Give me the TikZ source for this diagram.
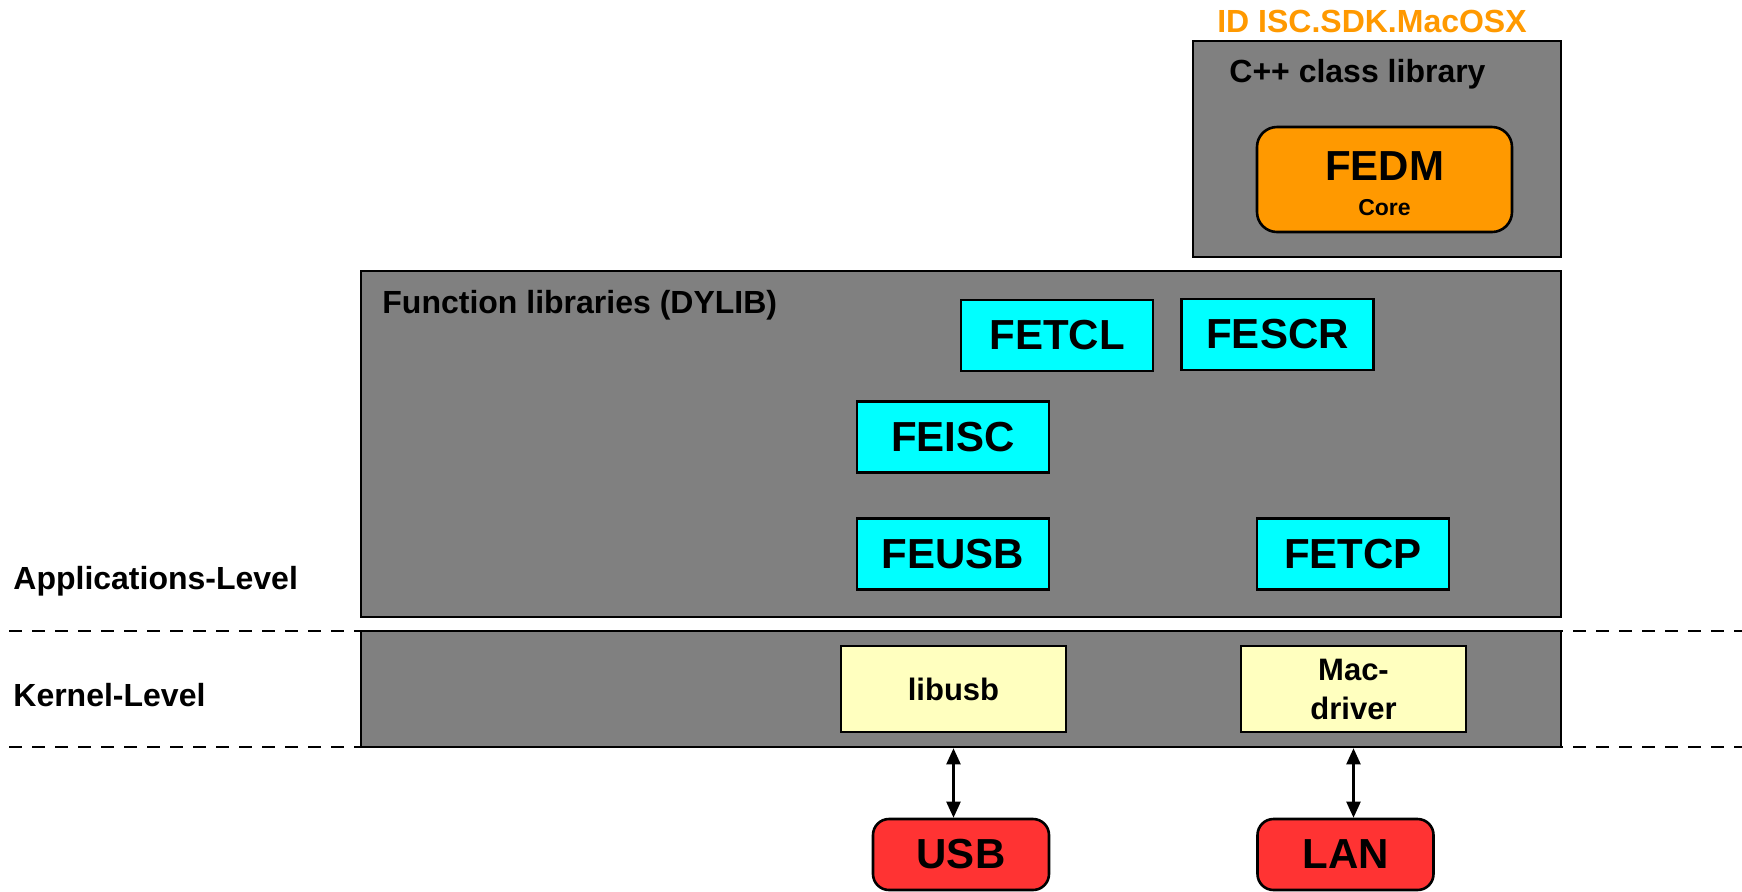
\documentclass[tikz,border=0pt]{standalone}
\usepackage{fontspec}
\setmainfont{Liberation Sans}
\usetikzlibrary{arrows.meta}
\definecolor{layer-gray}{HTML}{808080}
\definecolor{fe-cyan}{HTML}{00FFFF}
\definecolor{core-orange}{HTML}{FF9900}
\definecolor{drv-yellow}{HTML}{FFFFBF}
\definecolor{port-red}{HTML}{FF3333}
\tikzset{
    layer-box/.style = {draw=black, fill=layer-gray, line width=1.3pt, rectangle, inner sep=0pt},
    core-box/.style = {draw=black, fill=core-orange, line width=1.3pt, rectangle, rounded corners=10pt, align=center, minimum width=127.5pt, minimum height=52.5pt, font=\fontsize{11.5}{14}\selectfont\bfseries},
    fe-box/.style = {draw=black, fill=fe-cyan, line width=1.3pt, rectangle, minimum width=96pt, minimum height=35.5pt, font=\fontsize{21}{24}\selectfont\bfseries},
    drv-box/.style = {draw=black, fill=drv-yellow, line width=1.3pt, rectangle, align=center, minimum width=112.5pt, minimum height=43pt, font=\fontsize{15.5}{19.5}\selectfont\bfseries},
    port-box/.style = {draw=black, fill=port-red, line width=1.3pt, rectangle, rounded corners=8pt, minimum width=88pt, minimum height=35.5pt, font=\fontsize{21}{24}\selectfont\bfseries},
    box-title/.style = {anchor=west, inner sep=0pt, font=\fontsize{16}{19}\selectfont\bfseries},
    level-line/.style = {dash pattern=on 6.5pt off 5pt, line width=1pt},
    link/.style = {{Triangle[length=8pt,width=7pt]}-{Triangle[length=8pt,width=7pt]}, line width=1.1pt},
}

\begin{document}
\begin{tikzpicture}[x=0.5pt, y=-0.5pt]
\useasboundingbox (0,0) rectangle (1742,891);
% sdk title
\node[inner sep=0pt, text=core-orange, font=\fontsize{16}{19}\selectfont\bfseries] (sdk) at (1372,21) {ID ISC.SDK.MacOSX};
% layers
\node[layer-box, minimum width=184pt, minimum height=108pt] (cpp) at (1377,149) {};
\node[layer-box, minimum width=600pt, minimum height=173pt] (func) at (961,444) {};
\node[layer-box, minimum width=600pt, minimum height=58pt] (kernel) at (961,689) {};
\node[box-title] (cpp-title) at (1229,74) {C++ class library};
\node[box-title] (func-title) at (382,305) {Function libraries (DYLIB)};
\node[box-title] (app-level) at (13,581) {Applications-Level};
\node[box-title] (kernel-level) at (13,695) {Kernel-Level};
\draw[level-line] (9,631) -- (1742,631);
\draw[level-line] (9,747) -- (1742,747);
% libraries
\node[core-box] (fedm) at (1384.5,179.5) {{\fontsize{21}{21}\selectfont\rule{0pt}{19pt}FEDM}\\[3.5pt]Core};
\node[fe-box] (fetcl) at (1057,335.5) {FETCL};
\node[fe-box] (fescr) at (1277.5,334.5) {FESCR};
\node[fe-box] (feisc) at (953,437) {FEISC};
\node[fe-box] (feusb) at (953,554) {FEUSB};
\node[fe-box] (fetcp) at (1353,554) {FETCP};
\node[drv-box] (libusb) at (953.5,689) {libusb};
\node[drv-box] (macdrv) at (1353.5,689) {Mac-\\driver};
% ports
\node[port-box] (usb) at (961,854.5) {USB};
\node[port-box] (lan) at (1345.5,854.5) {LAN};
\draw[link] (libusb.south |- kernel.south) -- (libusb.south |- usb.north);
\draw[link] (macdrv.south |- kernel.south) -- (macdrv.south |- lan.north);
\end{tikzpicture}
\end{document}
